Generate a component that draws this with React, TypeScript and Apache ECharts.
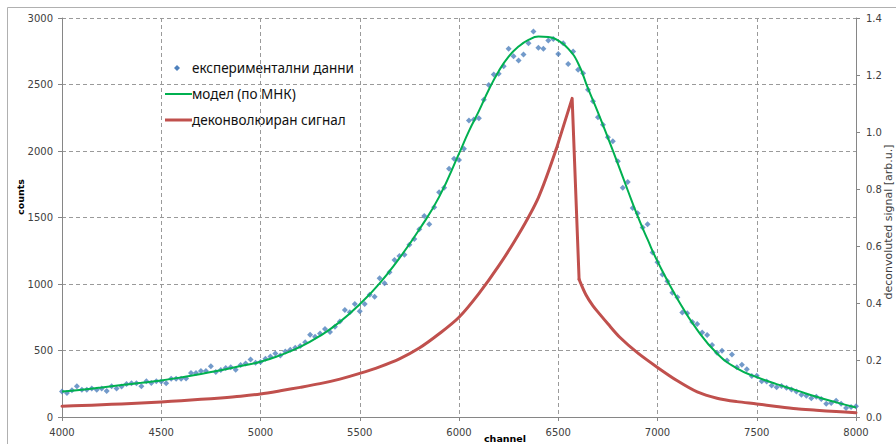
import React, { useEffect, useRef } from "react";
import * as echarts from "echarts";

// experimental points: one every 25 channels from 4000 to 8000
const expStart = 4000;
const expStep = 25;
const expCounts = [
  191, 181, 202, 232, 204, 204, 214, 204, 214, 196,
  232, 214, 230, 249, 254, 254, 232, 269, 255, 268,
  267, 254, 288, 288, 288, 290, 331, 331, 345, 345,
  382, 338, 354, 369, 374, 356, 391, 403, 432, 408,
  413, 438, 455, 477, 462, 493, 505, 521, 533, 562,
  618, 604, 628, 662, 640, 678, 718, 805, 788, 850,
  795, 850, 920, 905, 1043, 1006, 1088, 1181, 1211, 1219,
  1296, 1339, 1412, 1512, 1449, 1577, 1690, 1723, 1866, 1941,
  1933, 2016, 2229, 2236, 2246, 2385, 2497, 2575, 2580, 2638,
  2768, 2713, 2680, 2725, 2811, 2898, 2776, 2768, 2831, 2843,
  2730, 2811, 2655, 2748, 2610, 2585, 2460, 2375, 2254, 2197,
  2104, 2074, 1923, 1723, 1766, 1572, 1532, 1425, 1450, 1236,
  1163, 1071, 1020, 935, 900, 785, 780, 715, 700, 635,
  617, 542, 484, 499, 424, 469, 374, 392, 359, 309,
  311, 269, 266, 236, 223, 234, 219, 206, 191, 168,
  159, 141, 153, 136, 99, 106, 123, 99, 68, 75,
  80,
];

// least-squares model
const modelChannels = [
  4000, 4100, 4200, 4300, 4400, 4500, 4600, 4700, 4800, 4900,
  5000, 5100, 5200, 5300, 5400, 5500, 5600, 5700, 5800, 5900,
  6000, 6050, 6100, 6150, 6200, 6250, 6300, 6350, 6400, 6450,
  6500, 6550, 6600, 6650, 6700, 6750, 6800, 6850, 6900, 6950,
  7000, 7100, 7200, 7300, 7400, 7500, 7600, 7700, 7800, 7900, 8000,
];
const modelCounts = [
  191, 205, 222, 240, 257, 275, 298, 323, 352, 383,
  415, 465, 527, 610, 715, 848, 1005, 1195, 1410, 1655,
  1980, 2150, 2300, 2460, 2600, 2710, 2785, 2835, 2860, 2858,
  2830, 2770, 2660, 2470, 2290, 2100, 1905, 1705, 1510, 1335,
  1170, 890, 655, 478, 365, 300, 247, 200, 152, 110, 72,
];

// deconvoluted signal (right axis): rising side, spike, falling side
const deconvRiseChannels = [
  4000, 4100, 4200, 4300, 4400, 4500, 4600, 4700, 4800, 4900,
  5000, 5100, 5200, 5300, 5400, 5500, 5600, 5700, 5800, 5900,
  6000, 6100, 6200, 6300, 6400, 6490,
];
const deconvRiseSignal = [
  0.038, 0.04, 0.043, 0.046, 0.049, 0.053, 0.057, 0.062, 0.067, 0.073,
  0.081, 0.092, 0.104, 0.117, 0.133, 0.153, 0.176, 0.204, 0.242, 0.292,
  0.35, 0.433, 0.53, 0.64, 0.77, 0.94,
];
const deconvSpikeChannels = [6490, 6570, 6605];
const deconvSpikeSignal = [0.94, 1.118, 0.483];
const deconvFallChannels = [
  6605, 6640, 6675, 6710, 6750, 6810, 6900, 7000, 7100, 7200,
  7300, 7400, 7500, 7600, 7700, 7800, 7900, 8000,
];
const deconvFallSignal = [
  0.483, 0.428, 0.39, 0.36, 0.327, 0.28, 0.225, 0.174, 0.127, 0.088,
  0.066, 0.054, 0.046, 0.037, 0.029, 0.024, 0.019, 0.015,
];

const seriesNames = ["експериментални данни", "модел (по МНК)", "деконволюиран сигнал"];
const xTitle = "channel";
const yTitle = "counts";
const y2Title = "deconvoluted signal [arb.u.]";

const blue = "#4F81BD";
const green = "#00B050";
const red = "#C0504D";
const axisColor = "#868686";
const gridColor = "#9a9a9a";
const labelStyle = { fontFamily: "DejaVu Sans", fontSize: 10, color: "#404040" };

export default function App() {
  const ref = useRef<HTMLDivElement>(null);
  useEffect(() => {
    document.body.style.margin = "0";
    const chart = echarts.init(ref.current!, null, { renderer: "svg" });
    const pair = (xs: number[], ys: number[]) => xs.map((c, i) => [c, ys[i]]);
    const redSeries = (data: number[][], smooth: number | boolean) => ({
      name: seriesNames[2],
      type: "line",
      yAxisIndex: 1,
      symbol: "none",
      smooth,
      lineStyle: { color: red, width: 3, join: "round", cap: "round" },
      itemStyle: { color: red },
      data,
      z: 4,
    });
    const legendText = (y: number, text: string) => ({
      type: "text",
      x: 192,
      y,
      silent: true,
      style: {
        text,
        fontFamily: "Noto Sans",
        fontSize: 13.5,
        fill: "#111",
        align: "left",
        verticalAlign: "middle",
      },
    });
    chart.setOption({
      animation: false,
      backgroundColor: "#ffffff",
      grid: { left: 62, right: 40, top: 18, bottom: 27, containLabel: false },
      xAxis: {
        type: "value",
        min: 4000,
        max: 8000,
        interval: 500,
        axisLine: { show: true, onZero: false, lineStyle: { color: axisColor, width: 1 } },
        axisTick: { show: true, length: 4, lineStyle: { color: axisColor } },
        axisLabel: { ...labelStyle, margin: 10, formatter: (v: number) => String(v) },
        splitLine: { show: true, lineStyle: { color: gridColor, type: [4, 3], width: 1 } },
      },
      yAxis: [
        {
          type: "value",
          min: 0,
          max: 3000,
          interval: 500,
          position: "left",
          axisLine: { show: true, lineStyle: { color: axisColor, width: 1 } },
          axisTick: { show: true, length: 4, lineStyle: { color: axisColor } },
          axisLabel: { ...labelStyle, margin: 9, formatter: (v: number) => String(v) },
          splitLine: { show: true, lineStyle: { color: gridColor, type: [4, 3], width: 1 } },
        },
        {
          type: "value",
          min: 0,
          max: 1.4,
          interval: 0.2,
          position: "right",
          axisLine: { show: true, lineStyle: { color: axisColor, width: 1 } },
          axisTick: { show: true, length: 4, lineStyle: { color: axisColor } },
          axisLabel: { ...labelStyle, margin: 10, formatter: (v: number) => v.toFixed(1) },
          splitLine: { show: false },
        },
      ],
      series: [
        {
          name: seriesNames[0],
          type: "scatter",
          symbol: "diamond",
          symbolSize: 6,
          itemStyle: { color: blue },
          data: expCounts.map((v, i) => [expStart + i * expStep, v]),
          z: 2,
        },
        {
          name: seriesNames[1],
          type: "line",
          smooth: true,
          symbol: "none",
          lineStyle: { color: green, width: 2 },
          itemStyle: { color: green },
          data: pair(modelChannels, modelCounts),
          z: 3,
        },
        redSeries(pair(deconvRiseChannels, deconvRiseSignal), 0.3),
        redSeries(pair(deconvSpikeChannels, deconvSpikeSignal), false),
        redSeries(pair(deconvFallChannels, deconvFallSignal), 0.3),
      ],
      graphic: [
        {
          type: "rect",
          silent: true,
          z: -10,
          shape: { x: 7.5, y: 7.5, width: 1000, height: 1000 },
          style: { fill: "none", stroke: "#b0b0b0", lineWidth: 1 },
        },
        // legend
        {
          type: "polygon",
          silent: true,
          shape: { points: [[177, 65], [180, 68], [177, 71], [174, 68]] },
          style: { fill: blue },
        },
        legendText(68, seriesNames[0]),
        {
          type: "line",
          silent: true,
          shape: { x1: 165, y1: 94, x2: 192, y2: 94 },
          style: { stroke: green, lineWidth: 2 },
        },
        legendText(94, seriesNames[1]),
        {
          type: "line",
          silent: true,
          shape: { x1: 165, y1: 120, x2: 192, y2: 120 },
          style: { stroke: red, lineWidth: 3 },
        },
        legendText(120, seriesNames[2]),
        // axis titles
        {
          type: "text",
          x: 20,
          y: 197,
          rotation: Math.PI / 2,
          style: {
            text: yTitle,
            fontFamily: "DejaVu Sans",
            fontWeight: "bold",
            fontSize: 9.5,
            fill: "#000",
            align: "center",
            verticalAlign: "middle",
          },
        },
        {
          type: "text",
          x: 505,
          y: 438,
          style: {
            text: xTitle,
            fontFamily: "DejaVu Sans",
            fontWeight: "bold",
            fontSize: 9.5,
            fill: "#000",
            align: "center",
            verticalAlign: "middle",
          },
        },
        {
          type: "text",
          x: 888,
          y: 222,
          rotation: Math.PI / 2,
          style: {
            text: y2Title,
            fontFamily: "DejaVu Sans",
            fontSize: 11,
            fill: "#404040",
            align: "center",
            verticalAlign: "middle",
          },
        },
      ],
    });
    return () => chart.dispose();
  }, []);
  return <div ref={ref} style={{ width: 896, height: 444 }} />;
}
